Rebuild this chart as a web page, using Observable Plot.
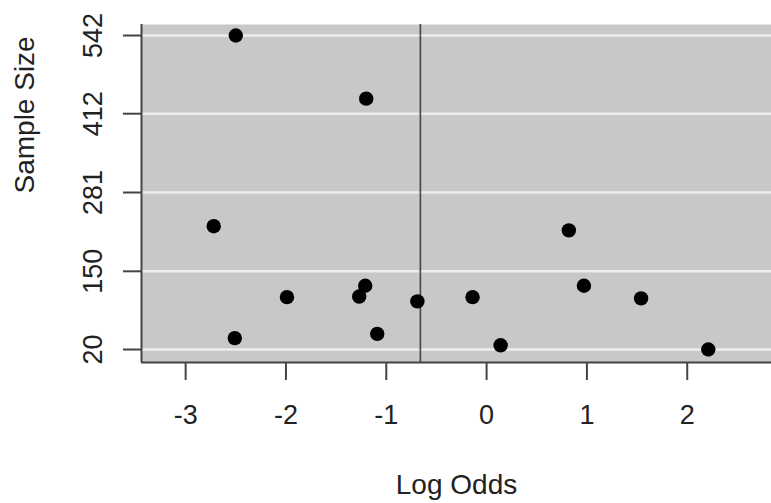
<!DOCTYPE html>
<html>
<head>
<meta charset="utf-8">
<script src="https://cdn.jsdelivr.net/npm/d3@7"></script>
<script src="https://cdn.jsdelivr.net/npm/@observablehq/plot@0.6"></script>
<style>
  html, body { margin: 0; padding: 0; background: #fff; }
  #chart svg { display: block; }
</style>
</head>
<body>
<div id="chart"></div>
<script>
const logOdds    = [-2.50, -1.20, -2.72, 0.82, -1.21, -1.27, -1.99, -0.69, -0.14, 0.97, 1.54, -1.09, -2.51, 0.14, 2.21];
const sampleSize = [542, 437, 225, 218, 126, 108, 107, 100, 107, 126, 105, 46, 39, 27, 20];
const yTicks = [20, 150, 281, 412, 542];
const xTicks = [-3, -2, -1, 0, 1, 2];
const meanLogOdds = -0.66;

const points = logOdds.map((x, i) => ({x, y: sampleSize[i]}));
const xDomain = [-3.44, 2.84];
const yDomain = [-1.6, 560.3];
const font = "'Liberation Sans', Arial, Helvetica, sans-serif";

const chart = Plot.plot({
  width: 771,
  height: 503,
  marginLeft: 141,
  marginRight: 0,
  marginTop: 24,
  marginBottom: 141,
  style: {fontFamily: font, fontSize: "27px", color: "#222", background: "#fff"},
  x: {domain: xDomain},
  y: {domain: yDomain},
  marks: [
    Plot.frame({fill: "#c8c8c8", stroke: "none"}),
    Plot.ruleY(yTicks, {stroke: "#ececec", strokeWidth: 2.5}),
    Plot.ruleX([meanLogOdds], {stroke: "#444", strokeWidth: 1.6}),
    Plot.ruleX([xDomain[0]], {stroke: "#444", strokeWidth: 2}),
    Plot.ruleY([yDomain[0]], {stroke: "#444", strokeWidth: 2}),
    Plot.axisX({ticks: xTicks, tickSize: 18, tickPadding: 24, label: null, stroke: "#444", strokeWidth: 2, fontSize: 27, tickFormat: d => String(d).replace("−", "-")}),
    Plot.axisY({ticks: yTicks, tickSize: 18, tickPadding: 22, tickRotate: -90, label: null, stroke: "#444", strokeWidth: 2, fontSize: 27}),
    Plot.dot(points, {x: "x", y: "y", r: 7.2, fill: "#000", stroke: "none"}),
    Plot.text(["Log Odds"], {frameAnchor: "bottom", dy: 131, fontSize: 28, fill: "#222"}),
    Plot.text(["Sample Size"], {frameAnchor: "left", dx: -116, rotate: -90, fontSize: 28, fill: "#222"})
  ]
});
document.getElementById("chart").appendChild(chart);
</script>
</body>
</html>
